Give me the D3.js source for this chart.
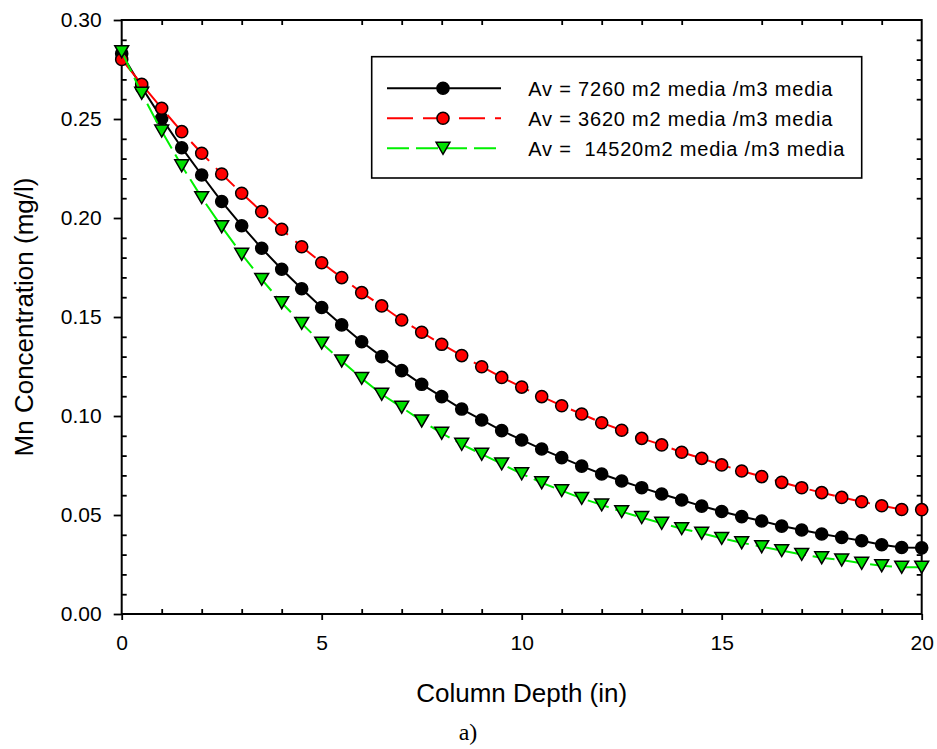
<!DOCTYPE html>
<html>
<head>
<meta charset="utf-8">
<script src="https://cdn.jsdelivr.net/npm/d3@7/dist/d3.min.js"></script>
<style>
  body { margin: 0; background: #fff; }
  svg { display: block; }
  text { font-family: Arial, "Liberation Sans", sans-serif; fill: #000; }
</style>
</head>
<body>
<svg id="chart" width="937" height="749"></svg>
<script>
// Column depth (in)
const depth = [0, 0.5, 1, 1.5, 2, 2.5, 3, 3.5, 4, 4.5, 5, 5.5, 6, 6.5, 7, 7.5, 8, 8.5, 9, 9.5,
               10, 10.5, 11, 11.5, 12, 12.5, 13, 13.5, 14, 14.5, 15, 15.5, 16, 16.5, 17, 17.5, 18, 18.5, 19, 19.5, 20];

// Mn concentration (mg/l) for each specific surface area
const av7260 = [0.2830, 0.2660, 0.2503, 0.2355, 0.2217, 0.2083, 0.1961, 0.1847, 0.1741, 0.1643,
                0.1548, 0.1460, 0.1375, 0.1300, 0.1229, 0.1160, 0.1098, 0.1035, 0.0980, 0.0926,
                0.0879, 0.0833, 0.0790, 0.0747, 0.0707, 0.0672, 0.0638, 0.0606, 0.0576, 0.0545,
                0.0518, 0.0492, 0.0470, 0.0444, 0.0424, 0.0404, 0.0387, 0.0370, 0.0350, 0.0336, 0.0334];
const av3620 = [0.2801, 0.2675, 0.2554, 0.2436, 0.2327, 0.2222, 0.2125, 0.2032, 0.1943, 0.1855,
                0.1774, 0.1699, 0.1623, 0.1556, 0.1485, 0.1423, 0.1362, 0.1305, 0.1249, 0.1195,
                0.1146, 0.1098, 0.1052, 0.1010, 0.0966, 0.0928, 0.0887, 0.0854, 0.0817, 0.0786,
                0.0753, 0.0722, 0.0694, 0.0665, 0.0638, 0.0613, 0.0589, 0.0567, 0.0547, 0.0528, 0.0527];
const av14520 = [0.2840, 0.2630, 0.2439, 0.2264, 0.2103, 0.1956, 0.1817, 0.1690, 0.1572, 0.1468,
                 0.1368, 0.1278, 0.1190, 0.1110, 0.1044, 0.0975, 0.0913, 0.0857, 0.0807, 0.0758,
                 0.0708, 0.0663, 0.0623, 0.0584, 0.0551, 0.0517, 0.0487, 0.0458, 0.0431, 0.0408,
                 0.0382, 0.0360, 0.0340, 0.0320, 0.0301, 0.0284, 0.0273, 0.0256, 0.0244, 0.0236, 0.0236];

const seriesLabels = ["Av = 7260 m2 media /m3 media", "Av = 3620 m2 media /m3 media", "Av =  14520m2 media /m3 media"];

const xMajor = [0, 5, 10, 15, 20];
const xMinor = [1, 2, 3, 4, 6, 7, 8, 9, 11, 12, 13, 14, 16, 17, 18, 19];
const yMajor = [0, 0.05, 0.10, 0.15, 0.20, 0.25, 0.30];
const yMinor = [0.01, 0.02, 0.03, 0.04, 0.06, 0.07, 0.08, 0.09, 0.11, 0.12, 0.13, 0.14,
                0.16, 0.17, 0.18, 0.19, 0.21, 0.22, 0.23, 0.24, 0.26, 0.27, 0.28, 0.29];

const svg = d3.select("#chart");
const plot = { left: 121.7, right: 921.7, top: 20, bottom: 614 };

const x = d3.scaleLinear().domain([0, 20]).range([plot.left, plot.right]);
const y = d3.scaleLinear().domain([0, 0.30]).range([plot.bottom, plot.top]);

// Down-pointing triangle centred on its bounding box
const triangleDown = {
  draw(ctx, size) {
    const w = Math.sqrt(size) * 0.62, h = w * 0.86;
    ctx.moveTo(-w, -h);
    ctx.lineTo(w, -h);
    ctx.lineTo(0, h);
    ctx.closePath();
  }
};

const series = [
  { values: av7260, stroke: "#000", dash: null, fill: "#000", symbol: d3.symbolCircle, size: 115 },
  { values: av3620, stroke: "#ff0000", dash: "26,10", fill: "#ff0000", symbol: d3.symbolCircle, size: 115 },
  { values: av14520, stroke: "#00f000", dash: "22,7", fill: "#00e000", symbol: triangleDown, size: 125 }
];

// Axes
function styleAxis(g) {
  g.select(".domain").remove();
  g.selectAll(".tick line").attr("stroke", "#000").attr("stroke-width", 1.8);
  g.selectAll("text").style("font-size", "21px").attr("fill", "#000");
}

svg.append("g").attr("transform", `translate(0,${plot.bottom})`)
  .call(d3.axisBottom(x).tickValues(xMajor).tickSize(6).tickPadding(15).tickFormat(d3.format("d")))
  .call(styleAxis);
svg.append("g").attr("transform", `translate(0,${plot.bottom})`)
  .call(d3.axisBottom(x).tickValues(xMinor).tickSize(-5).tickFormat(""))
  .call(styleAxis);
svg.append("g").attr("transform", `translate(0,${plot.top})`)
  .call(d3.axisTop(x).tickValues(xMinor).tickSize(-5).tickFormat(""))
  .call(styleAxis);

svg.append("g").attr("transform", `translate(${plot.left},0)`)
  .call(d3.axisLeft(y).tickValues(yMajor).tickSize(8).tickPadding(12).tickFormat(d3.format(".2f")))
  .call(styleAxis);
svg.append("g").attr("transform", `translate(${plot.left},0)`)
  .call(d3.axisLeft(y).tickValues(yMinor).tickSize(-5).tickFormat(""))
  .call(styleAxis);
svg.append("g").attr("transform", `translate(${plot.right},0)`)
  .call(d3.axisRight(y).tickValues(yMinor).tickSize(-5).tickFormat(""))
  .call(styleAxis);

// Frame
svg.append("rect")
  .attr("x", plot.left).attr("y", plot.top)
  .attr("width", plot.right - plot.left).attr("height", plot.bottom - plot.top)
  .attr("fill", "none").attr("stroke", "#000").attr("stroke-width", 2);

// Series: line then markers
const line = d3.line().x((d, i) => x(depth[i])).y(d => y(d));
series.forEach(s => {
  svg.append("path")
    .datum(s.values)
    .attr("d", line)
    .attr("fill", "none")
    .attr("stroke", s.stroke)
    .attr("stroke-width", 2)
    .attr("stroke-dasharray", s.dash);
  svg.append("g").selectAll("path")
    .data(s.values)
    .join("path")
    .attr("transform", (d, i) => `translate(${x(depth[i])},${y(d)})`)
    .attr("d", d3.symbol().type(s.symbol).size(s.size))
    .attr("fill", s.fill)
    .attr("stroke", "#000")
    .attr("stroke-width", 1.5);
});

// Legend
const legend = svg.append("g");
legend.append("rect")
  .attr("x", 371.7).attr("y", 56.7).attr("width", 490).attr("height", 121.3)
  .attr("fill", "#fff").attr("stroke", "#000").attr("stroke-width", 1.6);
series.forEach((s, i) => {
  const cy = 88.3 + i * 30;
  legend.append("line")
    .attr("x1", 387).attr("x2", 501).attr("y1", cy).attr("y2", cy)
    .attr("stroke", s.stroke).attr("stroke-width", 2)
    .attr("stroke-dasharray", s.dash);
  legend.append("path")
    .attr("transform", `translate(443,${cy})`)
    .attr("d", d3.symbol().type(s.symbol).size(s.size))
    .attr("fill", s.fill).attr("stroke", "#000").attr("stroke-width", 1.5);
  legend.append("text")
    .attr("x", 528.3).attr("y", cy + 7.5)
    .style("font-size", "20px")
    .style("letter-spacing", "0.8px")
    .style("white-space", "pre")
    .text(seriesLabels[i]);
});

// Axis titles
svg.append("text")
  .attr("x", (plot.left + plot.right) / 2).attr("y", 702)
  .attr("text-anchor", "middle")
  .style("font-size", "26px")
  .text("Column Depth (in)");
svg.append("text")
  .attr("transform", `translate(33,${(plot.top + plot.bottom) / 2}) rotate(-90)`)
  .attr("text-anchor", "middle")
  .style("font-size", "26px")
  .text("Mn Concentration (mg/l)");

// Panel label
svg.append("text")
  .attr("x", 468).attr("y", 740)
  .attr("text-anchor", "middle")
  .style("font-family", "'Liberation Serif', 'Times New Roman', serif")
  .style("font-size", "24px")
  .text("a)");
</script>
</body>
</html>
